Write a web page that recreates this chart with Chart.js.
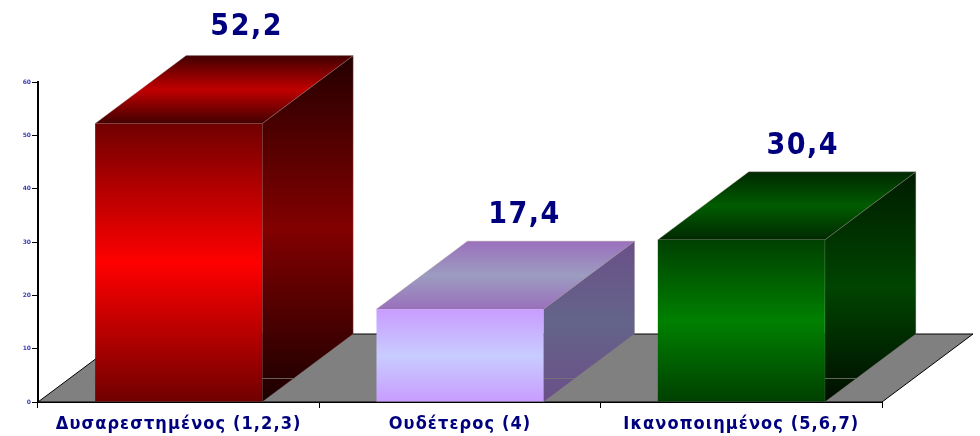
<!DOCTYPE html>
<html><head><meta charset="utf-8">
<style>html,body{margin:0;padding:0;background:#fff}#w{width:980px;height:436px;position:relative}</style>
<script src="https://cdn.jsdelivr.net/npm/chart.js@4"></script></head>
<body><div id="w"><canvas id="c" width="980" height="436"></canvas></div>
<script>
const categories = ["Δυσαρεστημένος (1,2,3)", "Ουδέτερος (4)", "Ικανοποιημένος (5,6,7)"];
const values = [52.2, 17.4, 30.4];
const valueLabels = ["52,2", "17,4", "30,4"];
const tickValues = [0, 10, 20, 30, 40, 50, 60];
const frontStops = [["#700000","#ff0000"],["#c89cff","#c8ccff"],["#004000","#008000"]];
const sideStops  = [["#240000","#820000","#1a0000"],["#6a5088","#64648a","#6a5088"],["#001c00","#004400","#000e00"]];
const topStops   = [["#420000","#c00000"],["#9a70bc","#9c9cc0"],["#002800","#005c00"]];
const DX = 91, DY = 68;
const NAVY = "#00007f";

function grad(ctx, y0, y1, stops){
  const g = ctx.createLinearGradient(0, y0, 0, y1);
  if (stops.length === 2){ g.addColorStop(0,stops[0]); g.addColorStop(.5,stops[1]); g.addColorStop(1,stops[0]); }
  else { stops.forEach((s,i)=>g.addColorStop(i/(stops.length-1),s)); }
  return g;
}
function poly(ctx, pts, fill, stroke){
  ctx.beginPath(); pts.forEach((p,i)=> i?ctx.lineTo(p[0],p[1]):ctx.moveTo(p[0],p[1])); ctx.closePath();
  ctx.fillStyle = fill; ctx.fill();
  if (stroke){ ctx.strokeStyle = stroke; ctx.lineWidth = 1; ctx.stroke(); }
}
const nudgeX = [68, 64.5, 61.5], nudgeY = [21, 18, 18];
const depth = {
  id: "depth",
  beforeDatasetsDraw(chart){
    const ctx = chart.ctx, a = chart.chartArea, y0 = chart.scales.y.getPixelForValue(0);
    ctx.save();
    ctx.beginPath();
    ctx.moveTo(a.left, y0); ctx.lineTo(a.right, y0); ctx.lineTo(a.right+DX, y0-DY); ctx.lineTo(a.left+DX, y0-DY); ctx.closePath();
    ctx.fillStyle = "#808080"; ctx.fill();
    ctx.strokeStyle = "#000"; ctx.lineWidth = 1; ctx.stroke();
    chart.getDatasetMeta(0).data.forEach((b,i)=>{
      const l = b.x - b.width/2, r = b.x + b.width/2, t = b.y;
      poly(ctx, [[r,t],[r+DX,t-DY],[r+DX,y0-DY],[r,y0]], grad(ctx,t-DY,y0,sideStops[i]), "rgba(150,130,130,.35)");
      ctx.strokeStyle = "rgba(120,120,120,.8)"; ctx.lineWidth = 1;
      ctx.beginPath(); ctx.moveTo(r, y0-23.5); ctx.lineTo(r+31, y0-23.5); ctx.stroke();
      poly(ctx, [[l,t],[l+DX,t-DY],[r+DX,t-DY],[r,t]], grad(ctx,t-DY,t,topStops[i]), "rgba(150,130,130,.35)");
      ctx.fillStyle = NAVY; ctx.textAlign = "center"; ctx.textBaseline = "alphabetic";
      ctx.font = "bold 30px 'DejaVu Sans Condensed'";
      ctx.letterSpacing = "1.5px";
      ctx.fillText(valueLabels[i], b.x + nudgeX[i], t - DY - nudgeY[i]);
      ctx.letterSpacing = "0px";
    });
    ctx.restore();
  }
};
Chart.defaults.animation = false;
new Chart(document.getElementById("c"), {
  type: "bar",
  data: { labels: categories, datasets: [{
    data: values,
    barPercentage: 167/281.3, categoryPercentage: 1,
    backgroundColor(c){
      const a = c.chart.chartArea; if (!a || !c.element) return frontStops[c.dataIndex][0];
      const y0 = c.chart.scales.y.getPixelForValue(0), t = c.chart.scales.y.getPixelForValue(values[c.dataIndex]);
      return grad(c.chart.ctx, t, y0, frontStops[c.dataIndex]);
    }
  }]},
  options: {
    responsive: false,
    layout: { padding: { top: 82, right: 98, left: 0, bottom: 0 } },
    plugins: { legend: { display: false }, tooltip: { enabled: false } },
    scales: {
      x: { grid: { display: true, drawOnChartArea: false, offset: true, color: "#000", tickLength: 6, tickColor:"#000" },
           border: { color: "#000", width: 2 },
           ticks: { color: NAVY, font: { family: "'DejaVu Sans Condensed'", weight: "bold", size: 18 }, padding: 6, maxRotation: 0 },
           afterFit(s){ s.height = 34; },
           afterUpdate(s){
             if (s._spaced) return; s._spaced = true;
             const o = s.drawLabels;
             s.drawLabels = function(area){ const c = this.ctx; c.save(); c.letterSpacing = "1.1px"; o.call(this, area); c.restore(); };
           } },
      y: { min: 0, max: 60, afterBuildTicks(s){ s.ticks = tickValues.map(v=>({value:v})); },
           grid: { drawOnChartArea: false, color: "#000", tickLength: 6 },
           border: { color: "#000", width: 2 },
           ticks: { color: "#3c3cb4", font: { family: "'DejaVu Sans'", weight: "bold", size: 6 }, padding: 1 },
           afterFit(s){ s.width = 38; } }
    }
  },
  plugins: [depth]
});
</script></body></html>
